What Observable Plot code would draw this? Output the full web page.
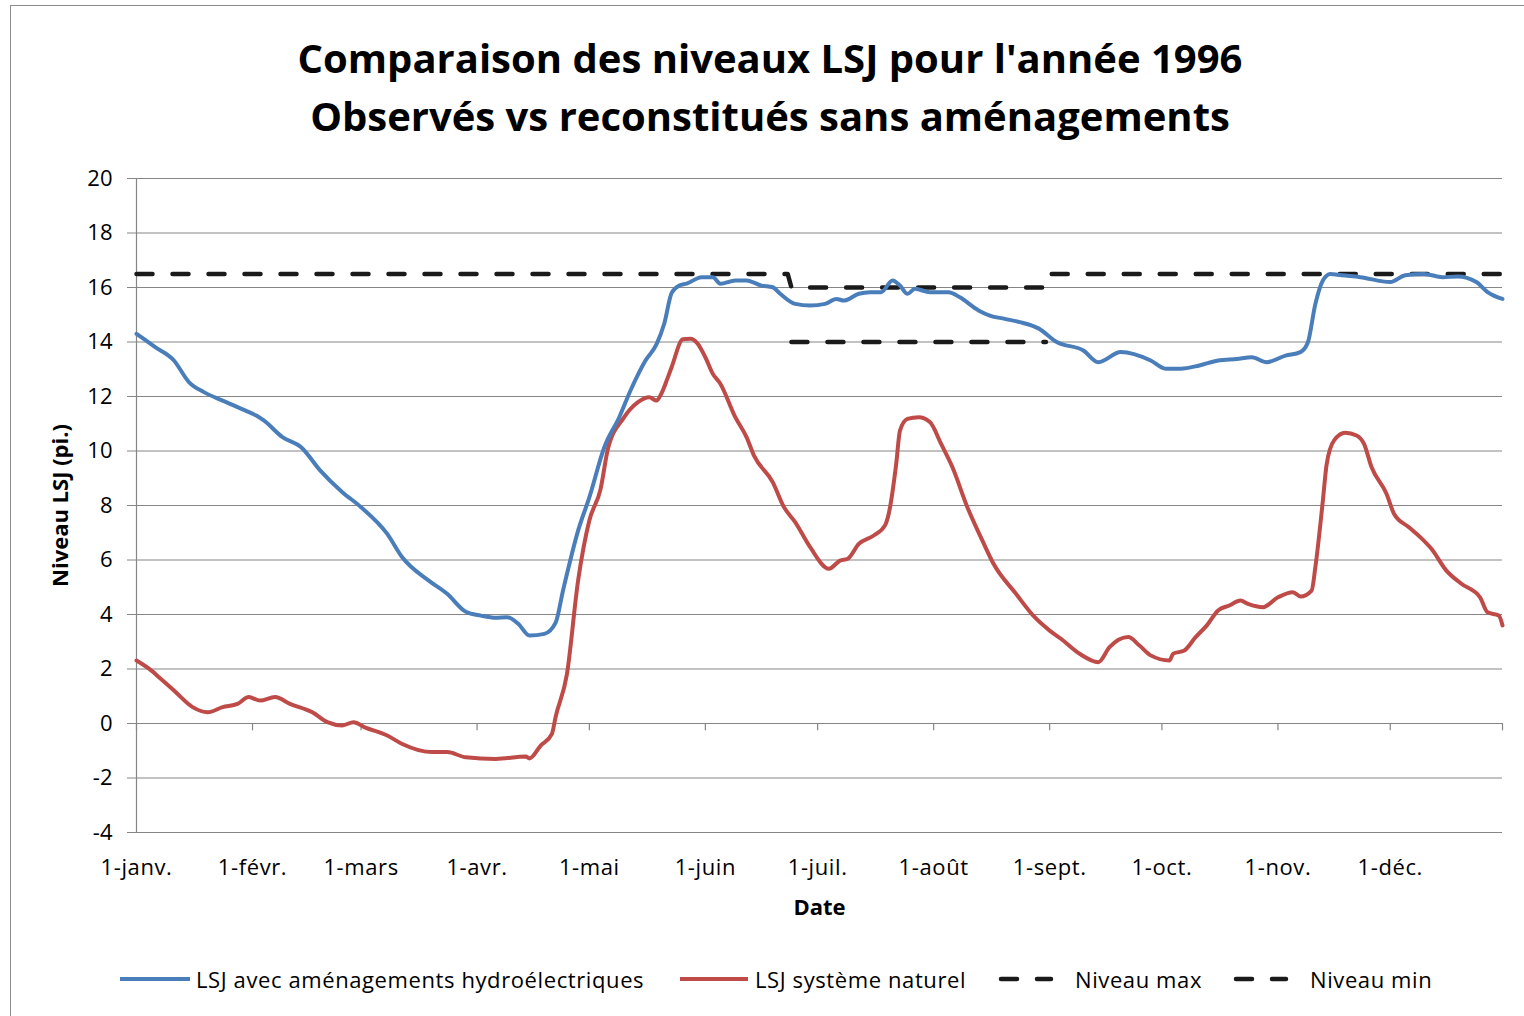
<!DOCTYPE html>
<html>
<head>
<meta charset="utf-8">
<script src="https://cdn.jsdelivr.net/npm/d3@7"></script>
<script src="https://cdn.jsdelivr.net/npm/@observablehq/plot@0.6"></script>
<style>
  body { margin: 0; background: #fff; font-family: "Open Sans", sans-serif; }
  #wrap { position: relative; width: 1524px; height: 1016px; overflow: hidden; background: #fff; }
  #frame { position: absolute; left: 10px; top: 5px; width: 1560px; height: 1060px; border: 1.5px solid #8c8c8c; box-sizing: border-box; }
  #title { position: absolute; left: 10px; width: 1520px; top: 29px; text-align: center; font-weight: bold; font-size: 40px; line-height: 58px; color: #000; }
  #title div { height: 58px; }
  #chart { position: absolute; left: 0; top: 160px; }
  #chart g[aria-label="x-axis tick label"] text { letter-spacing: 0.6px; }
  .leg { position: absolute; top: 965px; height: 28px; display: flex; align-items: center; font-size: 22px; letter-spacing: 0.6px; color: #000; white-space: nowrap; }
  .leg svg { display: block; }
</style>
</head>
<body>
<div id="wrap">
  <div id="frame"></div>
  <div id="title"><div>Comparaison des niveaux LSJ pour l'année 1996</div><div>Observés vs reconstitués sans aménagements</div></div>
  <div id="chart"></div>
  <div id="legend"></div>
</div>
<script>
// ---- Data (day offset from 1 Jan 1996, level in ft) ----
const blueDays = [0,5,10,14,18,23,29,32,34,39,44,49,55,60,67,71,78,83,88,92,96,99,102,105,109,112,114,118,121,125,129,132,136,139,141,143,145,147,151,154,156,160,163,167,170,172,176,180,184,187,189,193,196,199,202,204,206,208,212,217,220,225,228,232,236,241,246,253,257,263,271,275,279,284,289,294,298,302,307,311,313,315,317,319,322,327,335,339,344,349,353,358,361,365];
const blueValues = [14.3,13.81,13.32,12.53,12.16,11.85,11.49,11.30,11.12,10.51,10.14,9.3,8.49,7.94,6.96,6.10,5.25,4.76,4.1,3.96,3.88,3.90,3.66,3.23,3.29,3.7,4.9,7.08,8.30,10.14,11.24,12.22,13.32,13.93,14.67,15.8,16.07,16.14,16.38,16.38,16.14,16.26,16.26,16.07,16.01,15.77,15.40,15.34,15.40,15.58,15.52,15.77,15.83,15.83,16.26,16.07,15.77,15.95,15.83,15.83,15.64,15.16,14.97,14.85,14.73,14.5,13.99,13.69,13.26,13.63,13.32,13.02,13.02,13.14,13.32,13.38,13.44,13.26,13.50,13.63,13.99,15.40,16.26,16.5,16.45,16.38,16.20,16.45,16.50,16.38,16.40,16.20,15.83,15.58];

const redDays = [0,4,6,10,15,19,23,27,30,33,37,41,47,51,55,58,61,67,71,79,83,88,96,104,105,108,111,112,115,118,121,124,126,130,134,137,139,140,142,143,146,148,150,152,154,156,160,163,165,170,173,176,180,185,188,190,193,197,200,201,203,204,206,209,212,215,218,222,226,229,235,240,244,247,252,257,260,265,268,271,276,277,280,283,286,289,292,295,297,301,305,309,311,314,315,317,318,320,323,326,328,330,334,336,340,343,346,350,354,359,361,364,365];
const redValues = [2.31,1.94,1.70,1.21,0.60,0.41,0.60,0.72,0.97,0.84,0.97,0.72,0.41,0.05,-0.07,0.05,-0.14,-0.44,-0.75,-1.05,-1.05,-1.24,-1.30,-1.21,-1.28,-0.81,-0.38,0.25,1.8,5.25,7.45,8.6,10.1,11.18,11.79,11.97,11.85,12.04,12.71,13.08,14.1,14.12,13.93,13.44,12.83,12.47,11.24,10.51,9.83,8.86,7.94,7.39,6.47,5.68,5.98,6.04,6.59,6.90,7.27,7.70,9.53,10.75,11.18,11.24,11.06,10.26,9.41,7.94,6.72,5.86,4.76,3.90,3.41,3.11,2.56,2.25,2.80,3.17,2.86,2.50,2.31,2.56,2.68,3.17,3.60,4.15,4.33,4.51,4.39,4.27,4.63,4.82,4.66,4.88,5.74,8.18,9.5,10.39,10.67,10.57,10.26,9.41,8.43,7.70,7.20,6.84,6.41,5.61,5.13,4.63,4.08,3.96,3.60];

const maxDays = [0,174,175,243,244,365];
const maxValues = [16.5,16.5,16,16,16.5,16.5];
const minDays = [175,243];
const minValues = [14,14];

const monthLabels = ["1-janv.","1-févr.","1-mars","1-avr.","1-mai","1-juin","1-juil.","1-août","1-sept.","1-oct.","1-nov.","1-déc."];
const yTicks = [-4,-2,0,2,4,6,8,10,12,14,16,18,20];

const seriesNames = ["LSJ avec aménagements hydroélectriques","LSJ système naturel","Niveau max","Niveau min"];
const seriesColors = ["#4A7EBB","#BE4B48","#1a1a1a","#1a1a1a"];

// ---- Build ----
const start = Date.UTC(1996,0,1);
const toDate = d => new Date(start + d * 864e5);
const mk = (days, vals) => days.map((d,i) => ({date: toDate(d), value: vals[i]}));
const blue = mk(blueDays, blueValues);
const red = mk(redDays, redValues);
const maxL = mk(maxDays, maxValues);
const minL = mk(minDays, minValues);
const monthDates = d3.utcMonth.range(new Date(start), new Date(Date.UTC(1997,0,1)));
const tickDates = [...monthDates, toDate(365)];

const grid = "#868686";
const chart = Plot.plot({
  width: 1524, height: 772,
  marginTop: 18, marginLeft: 136, marginRight: 22, marginBottom: 100,
  style: {fontFamily: "Open Sans", fontSize: "22px", color: "#000", background: "transparent", overflow: "visible"},
  x: {type: "utc", domain: [toDate(0), toDate(365)]},
  y: {domain: [-4, 20]},
  marks: [
    Plot.gridY(yTicks, {stroke: grid, strokeOpacity: 1, strokeWidth: 1.2}),
    Plot.ruleX([toDate(0)], {stroke: grid, strokeWidth: 1.2}),
    Plot.ruleX(tickDates, {y1: 0, y2: -0.27, stroke: grid, strokeWidth: 1.2}),
    Plot.axisY(yTicks, {tickSize: 9, tickPadding: 15, stroke: grid, label: null, tickFormat: d => String(d)}),
    Plot.axisX(monthDates, {tickSize: 0, tickPadding: 27, tickFormat: d => monthLabels[d.getUTCMonth()], label: null}),
    Plot.line(maxL, {x: "date", y: "value", stroke: seriesColors[2], strokeWidth: 4.5, strokeDasharray: "16,20", strokeLinecap: "round"}),
    Plot.line(minL, {x: "date", y: "value", stroke: seriesColors[3], strokeWidth: 4.5, strokeDasharray: "16,20", strokeLinecap: "round"}),
    Plot.line(red, {x: "date", y: "value", stroke: seriesColors[1], strokeWidth: 4, strokeLinejoin: "round", curve: "monotone-x"}),
    Plot.line(blue, {x: "date", y: "value", stroke: seriesColors[0], strokeWidth: 4, strokeLinejoin: "round", curve: "monotone-x"}),
    Plot.text(["Date"], {frameAnchor: "bottom", dy: 82, fontWeight: "bold", fontSize: 22}),
    Plot.text(["Niveau LSJ (pi.)"], {frameAnchor: "left", dx: -76, rotate: -90, textAnchor: "middle", fontWeight: "bold", fontSize: 22})
  ]
});
document.getElementById("chart").appendChild(chart);

// ---- Legend ----
const legPos = [{sw: 120, w: 70, tx: 196}, {sw: 680, w: 68, tx: 755}, {sw: 998, w: 56, tx: 1075}, {sw: 1233, w: 56, tx: 1310}];
const legend = document.getElementById("legend");
seriesNames.forEach((name, i) => {
  const p = legPos[i];
  const dashed = i >= 2;
  const div = document.createElement("div");
  div.className = "leg";
  div.style.left = p.sw + "px";
  div.innerHTML = `<svg width="${p.w}" height="28"><line x1="${dashed ? 3 : 0}" x2="${p.w - (dashed ? 3 : 0)}" y1="14" y2="14" stroke="${seriesColors[i]}" stroke-width="${dashed ? 4.5 : 4}" ${dashed ? 'stroke-dasharray="16,20" stroke-linecap="round"' : ''}/></svg><span style="margin-left:${p.tx - p.sw - p.w}px">${name}</span>`;
  legend.appendChild(div);
});
</script>
</body>
</html>
